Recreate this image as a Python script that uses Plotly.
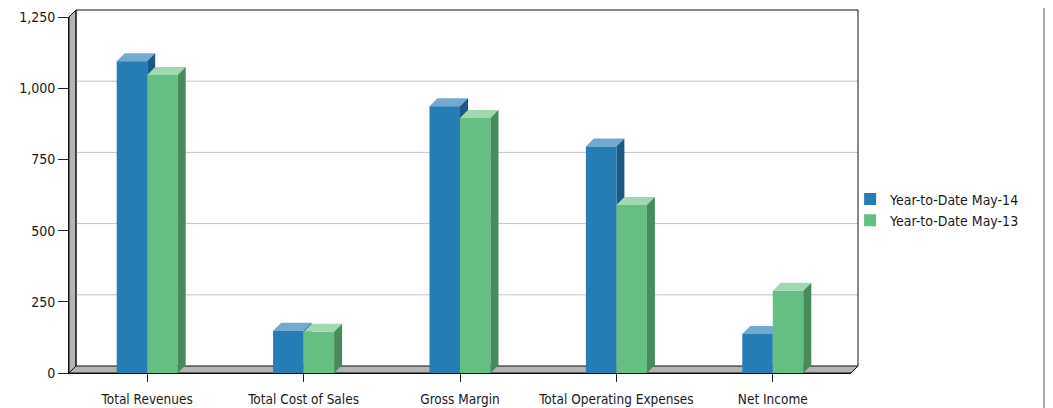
import plotly.graph_objects as go

# ---------------- data ----------------
categories = ["Total Revenues", "Total Cost of Sales", "Gross Margin",
              "Total Operating Expenses", "Net Income"]
ytd_may14 = [1095, 148, 937, 795, 137]
ytd_may13 = [1046, 145, 895, 590, 289]
series_names = ["Year-to-Date May-14", "Year-to-Date May-13"]
y_ticks = [0, 250, 500, 750, 1000, 1250]
y_tick_text = ["0", "250", "500", "750", "1,000", "1,250"]

# ---------------- geometry / style ----------------
W, H = 1053, 408
BODY = 8                      # default page margin of the html body
ML, MT = 69 - BODY, 10 - BODY
PW, PH = 789, 363             # plot area incl. 3-D depth
MR, MB = W - ML - PW, H - MT - PH
DW = 7          # wall depth (px)
DB = 8          # bar depth (px)
BW = 0.195      # bar width (category units)
N = len(categories)
PX_PER_X = (PW - DW) / N
PX_PER_Y = (PH - DW) / (y_ticks[-1] - y_ticks[0])
WPX = BW * PX_PER_X

FONT = "DejaVu Sans Condensed, DejaVu Sans, sans-serif"

styles = [
    dict(front="#267cb4", top="#74aad0", side="#1b5882", offset=-BW / 2),
    dict(front="#66bf82", top="#a0d8af", side="#488a5c", offset=BW / 2),
]
series_vals = [ytd_may14, ytd_may13]

fig = go.Figure()
shapes = []

# walls: left wall, floor (pixel paths anchored at the plot corner)
wall_common = dict(type="path", xref="paper", yref="paper", xsizemode="pixel",
                   ysizemode="pixel", xanchor=0, yanchor=0, layer="below",
                   fillcolor="#b4b4b4", line=dict(color="#111", width=1))
shapes.append(dict(wall_common,
                   path=f"M0,0 L0,{PH-DW} L{DW},{PH} L{DW},{DW} Z"))
shapes.append(dict(wall_common,
                   path=f"M0,0 L{PW-DW},0 L{PW},{DW} L{DW},{DW} Z"))
# back wall gridlines
for v in y_ticks[1:-1]:
    shapes.append(dict(type="line", xref="paper", yref="y", xsizemode="pixel",
                       ysizemode="pixel", xanchor=0, yanchor=v,
                       x0=DW, x1=PW, y0=DW, y1=DW, layer="below",
                       line=dict(color="#c4c4c4", width=1)))
# back wall frame
shapes.append(dict(type="path", xref="paper", yref="paper", xsizemode="pixel",
                   ysizemode="pixel", xanchor=0, yanchor=0, layer="below",
                   path=f"M{DW},{DW} L{DW},{PH} L{PW},{PH} L{PW},{DW}",
                   line=dict(color="#111", width=1)))
# right grey border of the container
shapes.append(dict(type="line", xref="paper", yref="paper", xsizemode="pixel",
                   ysizemode="pixel", xanchor=1, yanchor=0,
                   x0=186, x1=186, y0=-MB, y1=PH + MT,
                   line=dict(color="#a8a8a8", width=2)))

# bars: front faces as traces, top & side faces as shapes
for si, (name, vals, st) in enumerate(zip(series_names, series_vals, styles)):
    xs = [i + st["offset"] for i in range(N)]
    fig.add_trace(go.Bar(x=xs, y=vals, width=BW, name=name,
                         marker=dict(color=st["front"], line=dict(width=0)),
                         hovertemplate="%{y}<extra>" + name + "</extra>"))
    layer = "between" if si == 0 else "above"
    for i, v in enumerate(vals):
        left = i + st["offset"] - BW / 2
        right = i + st["offset"] + BW / 2
        hpx = v * PX_PER_Y
        shapes.append(dict(type="path", xref="x", yref="y", xsizemode="pixel",
                           ysizemode="pixel", xanchor=left, yanchor=v, layer=layer,
                           path=f"M0,0 L{WPX:.2f},0 L{WPX+DB:.2f},{DB} L{DB},{DB} Z",
                           fillcolor=st["top"], line=dict(width=0)))
        shapes.append(dict(type="path", xref="x", yref="y", xsizemode="pixel",
                           ysizemode="pixel", xanchor=right, yanchor=v, layer=layer,
                           path=f"M0,0 L{DB},{DB} L{DB},{DB-hpx:.2f} L0,{-hpx:.2f} Z",
                           fillcolor=st["side"], line=dict(width=0)))

fig.update_layout(
    width=W, height=H, autosize=False,
    margin=dict(l=ML, r=MR, t=MT, b=MB, pad=0),
    paper_bgcolor="white", plot_bgcolor="rgba(0,0,0,0)",
    barmode="overlay", showlegend=True,
    font=dict(family=FONT, size=13, color="#1a1a1a"),
    shapes=shapes,
    xaxis=dict(domain=[0, (PW - DW) / PW], range=[-0.5, N - 0.5],
               tickmode="array", tickvals=list(range(N)), ticktext=categories,
               ticks="outside", ticklen=8, tickcolor="#222", tickwidth=1,
               showgrid=False, zeroline=False, showline=True, automargin=False,
               linecolor="#111", linewidth=1, ticklabelstandoff=6,
               tickfont=dict(family=FONT, size=13.5, color="#1a1a1a")),
    yaxis=dict(domain=[0, (PH - DW) / PH], range=[0, 1250],
               tickmode="array", tickvals=y_ticks, ticktext=y_tick_text,
               ticks="outside", ticklen=10, tickcolor="#222", tickwidth=1,
               showgrid=False, zeroline=False, showline=True, automargin=False,
               linecolor="#111", linewidth=1,
               tickfont=dict(family=FONT, size=14, color="#1a1a1a")),
    legend=dict(x=0.99, y=0.449, xanchor="left", yanchor="middle",
                bgcolor="rgba(0,0,0,0)",
                font=dict(family=FONT, size=14, color="#1a1a1a"),
                itemwidth=30, tracegroupgap=0),
)

fig.write_html("out.html")
